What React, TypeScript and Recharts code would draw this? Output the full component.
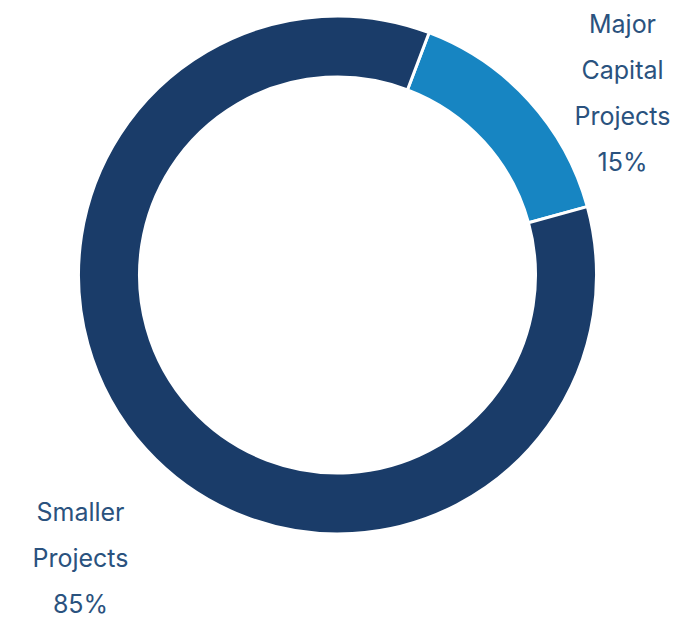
import React from "react";
import { PieChart, Pie, Cell } from "recharts";

const categories = ["Major Capital Projects", "Smaller Projects"];
const values = [15, 85];
const labelLines = [
  ["Major", "Capital", "Projects", "15%"],
  ["Smaller", "Projects", "85%"],
];
const colors = ["#1785c2", "#1a3c69"];
const labelOffsets = [
  { dx: 285, dy: -242 },
  { dx: -257, dy: 246 },
];

const data = categories.map((name, i) => ({ name, value: values[i] }));

const renderLabel = (props: any) => {
  const { cx, cy, index } = props;
  const off = labelOffsets[index];
  const lines = labelLines[index];
  return (
    <text
      x={cx + off.dx}
      y={cy + off.dy}
      textAnchor="middle"
      fill="#2a527e"
      fontFamily="Inter, 'Noto Sans', sans-serif"
      fontSize={25}
    >
      {lines.map((l, i) => (
        <tspan key={i} x={cx + off.dx} y={cy + off.dy + i * 46}>
          {l}
        </tspan>
      ))}
    </text>
  );
};

export default function App() {
  return (
    <div style={{ position: "absolute", left: 0, top: 0 }}>
      <PieChart width={682} height={620} margin={{ top: 0, right: 0, bottom: 0, left: 0 }}>
        <Pie
          data={data}
          dataKey="value"
          nameKey="name"
          cx={337.5}
          cy={275}
          innerRadius={198}
          outerRadius={259}
          startAngle={69.3}
          endAngle={-290.7}
          stroke="#ffffff"
          strokeWidth={3}
          label={renderLabel}
          labelLine={false}
          isAnimationActive={false}
        >
          {data.map((d, i) => (
            <Cell key={d.name} fill={colors[i]} />
          ))}
        </Pie>
      </PieChart>
    </div>
  );
}
